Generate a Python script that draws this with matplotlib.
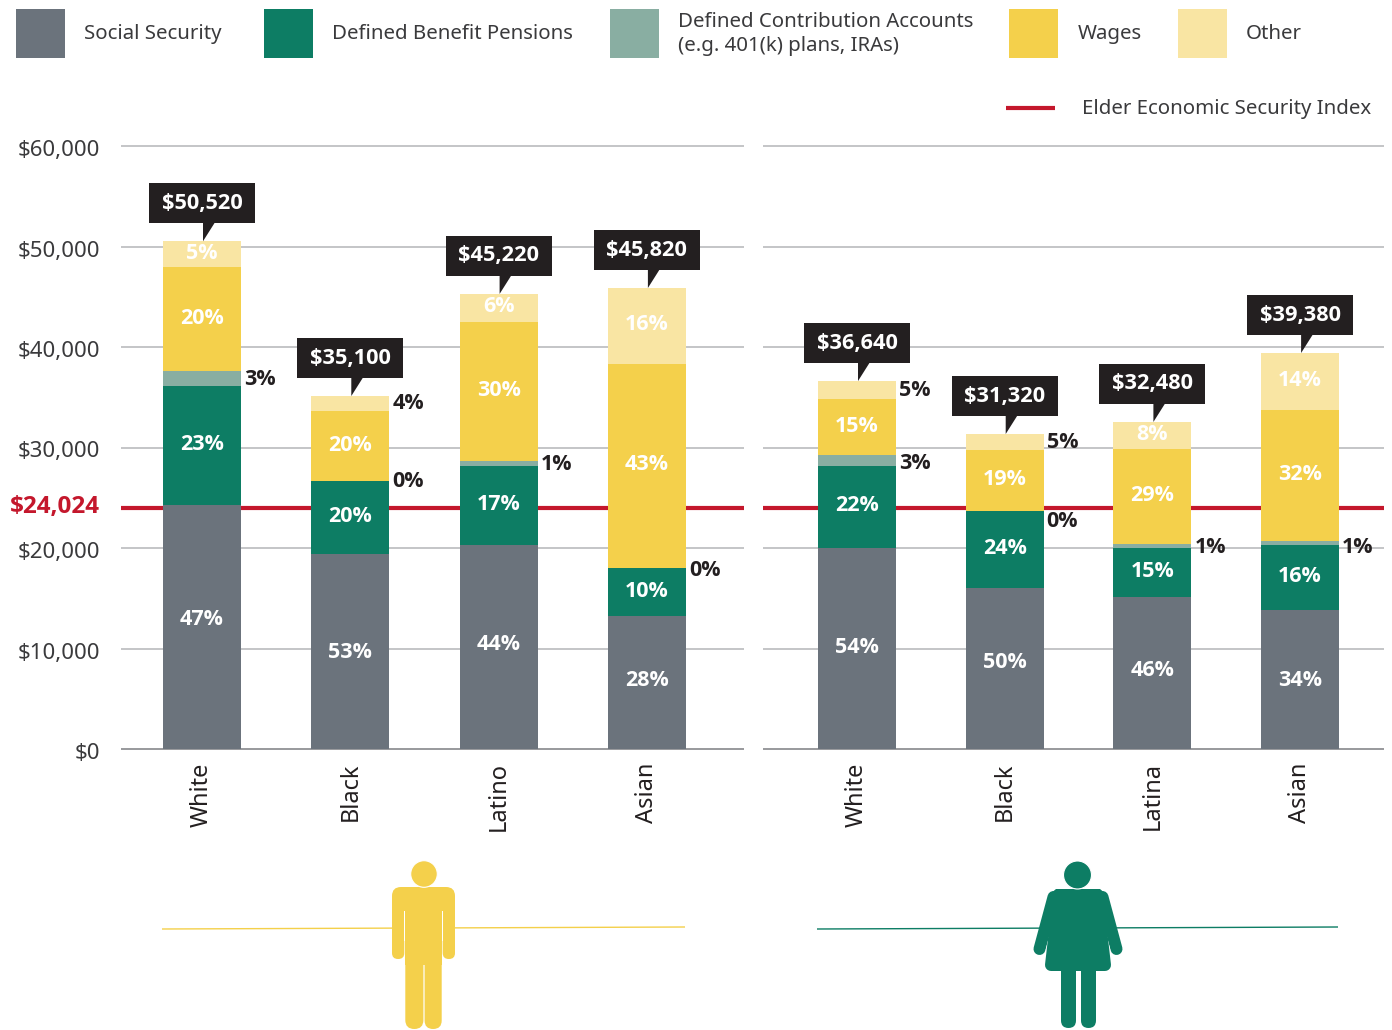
import matplotlib
matplotlib.use("Agg")
import matplotlib.pyplot as plt
from matplotlib.patches import Rectangle, Polygon, Circle, FancyBboxPatch
from matplotlib.transforms import ScaledTranslation

plt.rcParams['font.family'] = ['Noto Sans', 'DejaVu Sans']

W, H = 1392, 1030

men_groups = ["White", "Black", "Latino", "Asian"]
women_groups = ["White", "Black", "Latina", "Asian"]
men_totals = ["$50,520", "$35,100", "$45,220", "$45,820"]
women_totals = ["$36,640", "$31,320", "$32,480", "$39,380"]

men_ss = [24280, 19400, 20300, 13230]
men_db = [11840, 7260, 7860, 4780]
men_dc = [1490, 0, 500, 0]
men_wages = [10350, 6970, 13830, 20300]
men_other = [2560, 1490, 2790, 7560]

women_ss = [20000, 16020, 15120, 13830]
women_db = [8160, 7660, 4880, 6470]
women_dc = [1090, 0, 400, 400]
women_wages = [5570, 6070, 9450, 13030]
women_other = [1790, 1590, 2690, 5670]

men_ss_pct = ["47%", "53%", "44%", "28%"]
men_db_pct = ["23%", "20%", "17%", "10%"]
men_dc_pct = ["3%", "0%", "1%", "0%"]
men_wages_pct = ["20%", "20%", "30%", "43%"]
men_other_pct = ["5%", "4%", "6%", "16%"]

women_ss_pct = ["54%", "50%", "46%", "34%"]
women_db_pct = ["22%", "24%", "15%", "16%"]
women_dc_pct = ["3%", "0%", "1%", "1%"]
women_wages_pct = ["15%", "19%", "29%", "32%"]
women_other_pct = ["5%", "5%", "8%", "14%"]

elder_index = 24024
y_ticks = [0, 10000, 20000, 30000, 40000, 50000, 60000]
y_labels = ["$0", "$10,000", "$20,000", "$30,000", "$40,000", "$50,000", "$60,000"]

legend_labels = ["Social Security", "Defined Benefit Pensions",
                 "Defined Contribution Accounts\n(e.g. 401(k) plans, IRAs)", "Wages", "Other"]
index_label = "Elder Economic Security Index"

C_SS, C_DB, C_DC, C_W, C_O = "#6B737C", "#0D7D64", "#89AEA2", "#F4D04B", "#F9E5A3"
colors = [C_SS, C_DB, C_DC, C_W, C_O]
RED, DARK, TXT, GRID = "#C4172C", "#231F20", "#3A3A3C", "#B4B5B8"

# layout helpers (label nudges in pixels, upward positive)
men_ss_nudge = [7, -1, 2, 2]
women_ss_nudge = [1, 6, 3, -1]
men_dc_nudge = [-1, 0, -1, -3]
women_dc_nudge = [-3, -10, -2, -5]
men_other_out = [False, True, False, False]
women_other_out = [True, True, False, False]

FS_TICK = 16.0
FS_LEG = 14.7
FS_PCT = 15.5
FS_TOT = 15.7
FS_RED = 17.5
FS_CAT = 17.0
BOLD = "Open Sans"

fig = plt.figure(figsize=(W / 100, H / 100), dpi=100, facecolor="white")


def make_axes(x0, x1, c0, spacing):
    ax = fig.add_axes([x0 / W, 1 - 749 / H, (x1 - x0) / W, (749 - 146) / H])
    ax.set_xlim((x0 - c0) / spacing, (x1 - c0) / spacing)
    ax.set_ylim(0, 60000)
    for s in ax.spines.values():
        s.set_visible(False)
    ax.set_axisbelow(True)
    ax.set_yticks(y_ticks)
    ax.grid(axis="y", color=GRID, lw=1.1)
    for gl in ax.get_ygridlines():
        gl.set_clip_on(False)
        gl.set_solid_capstyle("butt")
    ax.axhline(elder_index, color=RED, lw=3.0, zorder=1.5, solid_capstyle="butt")
    ax.tick_params(axis="both", length=0)
    ax.patch.set_alpha(0)
    return ax


axL = make_axes(121, 744, 202, 148.3)
axR = make_axes(763, 1384, 857, 147.7)
axL.set_yticklabels(y_labels, fontsize=FS_TICK, color=TXT)
axL.tick_params(axis="y", pad=15)
for t in axL.get_yticklabels():
    t.set_transform(t.get_transform() + ScaledTranslation(0, -2 / 100, fig.dpi_scale_trans))
axR.set_yticklabels([])

ov = fig.add_axes([0, 0, 1, 1], zorder=5)
ov.set_xlim(0, W)
ov.set_ylim(H, 0)
ov.axis("off")


def to_px(ax, x, y):
    px, py = ax.transData.transform((x, y))
    return px, H - py


def draw_panel(ax, groups, totals, series, pcts, ss_nudge, dc_nudge, other_out):
    xs = list(range(len(groups)))
    bar_w = 78 / 148
    for i in xs:
        bottom = 0
        for k, (vals, col) in enumerate(zip(series, colors)):
            v = vals[i]
            ax.bar(i, v, bottom=bottom, width=bar_w, color=col, zorder=3, linewidth=0)
            cy = bottom + v / 2
            px, py = to_px(ax, i, cy)
            rx = to_px(ax, i + bar_w / 2, 0)[0]
            lbl = pcts[k][i]
            if k == 2:
                ov.text(rx + 3, py - dc_nudge[i], lbl, fontsize=FS_PCT, fontweight="bold",
                        family=BOLD, color=DARK, ha="left", va="center")
            elif k == 4 and other_out[i]:
                ov.text(rx + 3, py, lbl, fontsize=FS_PCT, fontweight="bold",
                        family=BOLD, color=DARK, ha="left", va="center")
            else:
                nudge = ss_nudge[i] if k == 0 else 1
                ov.text(px, py - nudge, lbl, fontsize=FS_PCT, fontweight="bold",
                        family=BOLD, color="white", ha="center", va="center")
            bottom += v
        tx, ty = to_px(ax, i, bottom)
        box_b = ty - 18
        box_t = box_b - 40
        ov.add_patch(Rectangle((tx - 53, box_t), 106, 40, fc=DARK, ec="none", zorder=6))
        ov.add_patch(Polygon([(tx + 1, box_b - 1), (tx + 13, box_b - 1), (tx + 1, ty)],
                             closed=True, fc=DARK, ec="none", zorder=6))
        ov.text(tx, (box_t + box_b) / 2, totals[i], color="white", fontsize=FS_TOT,
                fontweight="bold", family=BOLD, ha="center", va="center", zorder=7)
    ax.set_xticks(xs)
    ax.set_xticklabels(groups, rotation=90, fontsize=FS_CAT, color=DARK, va="top", ha="center")
    ax.tick_params(axis="x", pad=9.7)
    ax.plot(ax.get_xlim(), [0, 0], color="#8E8F92", lw=1.1, zorder=2, clip_on=False,
            solid_capstyle="butt")


draw_panel(axL, men_groups, men_totals, [men_ss, men_db, men_dc, men_wages, men_other],
           [men_ss_pct, men_db_pct, men_dc_pct, men_wages_pct, men_other_pct],
           men_ss_nudge, men_dc_nudge, men_other_out)
draw_panel(axR, women_groups, women_totals, [women_ss, women_db, women_dc, women_wages, women_other],
           [women_ss_pct, women_db_pct, women_dc_pct, women_wages_pct, women_other_pct],
           women_ss_nudge, women_dc_nudge, women_other_out)

# red index label
ov.text(100, to_px(axL, 0, elder_index)[1] - 1, "$24,024", color=RED, fontsize=FS_RED,
        fontweight="bold", family=BOLD, ha="right", va="center")

# legend
swatch_x = [16, 264, 610, 1009, 1178]
text_x = [84, 332, 678, 1078, 1246]
for sx, tx, lab, col in zip(swatch_x, text_x, legend_labels, colors):
    ov.add_patch(Rectangle((sx, 9), 49, 49, fc=col, ec="none"))
    ov.text(tx, 34, lab, fontsize=FS_LEG, color=TXT, ha="left", va="center", linespacing=1.24)
ov.plot([1006, 1055], [108, 108], color=RED, lw=3.0, solid_capstyle="butt")
ov.text(1082, 109, index_label, fontsize=FS_LEG, color=TXT, ha="left", va="center")

# icons
ov.plot([162, 685], [929, 927], color=C_W, lw=1.0, zorder=1, solid_capstyle="butt")
ov.plot([817, 1338], [929, 927], color=C_DB, lw=1.0, zorder=1, solid_capstyle="butt")


def rrect(x0, y0, x1, y1, r, col):
    ov.add_patch(FancyBboxPatch((x0 + r, y0 + r), x1 - x0 - 2 * r, y1 - y0 - 2 * r,
                                boxstyle=f"round,pad={r},rounding_size={r}",
                                fc=col, ec="none", zorder=3))


# man
rrect(392, 887, 455, 925, 9, C_W)
rrect(392, 900, 404.3, 959, 6, C_W)
rrect(442.7, 900, 455, 959, 6, C_W)
ov.add_patch(Rectangle((404.3, 911), 1.0, 30, fc="white", ec="none", zorder=4))
ov.add_patch(Rectangle((441.7, 911), 1.0, 30, fc="white", ec="none", zorder=4))
ov.add_patch(Rectangle((405.3, 905), 36.4, 60, fc=C_W, ec="none", zorder=3))
rrect(405.3, 950, 423.4, 1029, 9, C_W)
rrect(424.6, 950, 441.7, 1029, 8.5, C_W)
ov.add_patch(Circle((424, 874), 13.3, fc=C_W, ec="white", lw=0.8, zorder=4))

# woman
cx = 1078
px_pt = 0.72
for sgn in (-1, 1):
    ov.plot([cx + sgn * 24.5, cx + sgn * 38.5], [897, 949], color=C_DB, lw=12 * px_pt,
            solid_capstyle="round", zorder=3)
    ov.plot([cx + sgn * 22, cx + sgn * 31.5], [912, 950], color="white", lw=1.2, zorder=3.2)
shoulder = [(cx - 22, 889), (cx + 22, 889), (cx + 29, 895), (cx + 30, 907), (cx - 30, 907), (cx - 29, 895)]
ov.add_patch(Polygon(shoulder, closed=True, fc=C_DB, ec="none", zorder=3.4))
body = [(cx - 19, 895), (cx + 19, 895), (cx + 27, 965), (cx - 27, 965)]
ov.add_patch(Polygon(body, closed=True, fc=C_DB, ec=C_DB, lw=12 * px_pt, joinstyle="round", zorder=3.5))
rrect(cx - 17, 960, cx - 2, 1028, 7.5, C_DB)
rrect(cx + 3, 960, cx + 18, 1028, 7.5, C_DB)
ov.add_patch(Circle((1077.5, 875), 14, fc=C_DB, ec="white", lw=0.8, zorder=4))

fig.savefig("out.png", dpi=100, facecolor="white")
